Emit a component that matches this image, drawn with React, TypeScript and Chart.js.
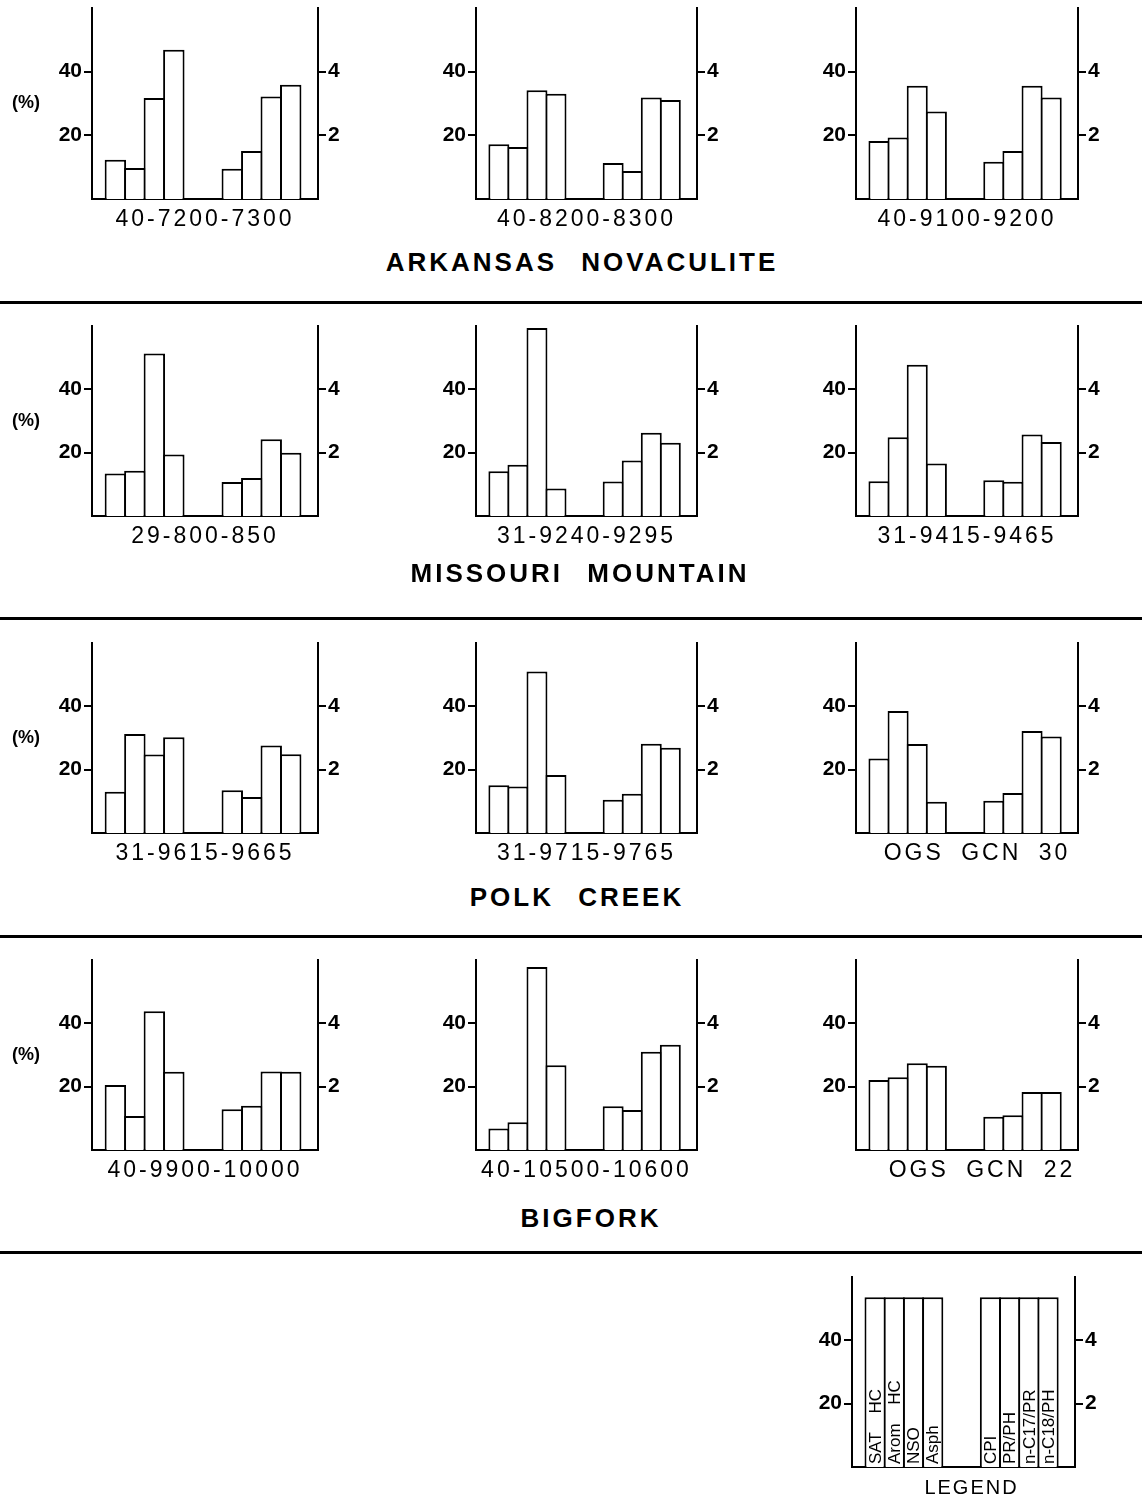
import React, { useEffect, useRef } from 'react';
import { Chart, registerables } from 'chart.js';

Chart.register(...registerables);

// ---------------- data ----------------
const SAMPLES = [
  '40-7200-7300', '40-8200-8300', '40-9100-9200',
  '29-800-850', '31-9240-9295', '31-9415-9465',
  '31-9615-9665', '31-9715-9765', 'OGS GCN 30',
  '40-9900-10000', '40-10500-10600', 'OGS GCN 22',
];
const FORMATIONS = ['ARKANSAS NOVACULITE', 'MISSOURI MOUNTAIN', 'POLK CREEK', 'BIGFORK'];
const LEGEND_TITLE = 'LEGEND';
const PCT_UNIT = '(%)';

const PCT_COMPONENTS = ['SAT HC', 'Arom HC', 'NSO', 'Asph'];
const RATIO_COMPONENTS = ['CPI', 'PR/PH', 'n-C17/PR', 'n-C18/PH'];

// left axis (%) series, one value per sample
const SAT_HC = [12.3, 17.2, 18.2, 13.4, 14.1, 11.0, 13.0, 15.1, 23.5, 20.5, 6.8, 22.1];
const AROM_HC = [9.7, 16.3, 19.3, 14.3, 16.2, 24.9, 31.3, 14.7, 38.5, 10.7, 8.8, 23.0];
const NSO = [31.7, 34.2, 35.6, 51.3, 59.4, 47.8, 24.8, 51.0, 28.1, 43.8, 57.8, 27.4];
const ASPH = [46.9, 33.1, 27.5, 19.4, 8.7, 16.6, 30.2, 18.3, 9.9, 24.7, 26.8, 26.6];
// right axis (ratio) series
const CPI = [0.95, 1.13, 1.17, 1.07, 1.09, 1.13, 1.35, 1.05, 1.02, 1.29, 1.38, 1.05];
const PR_PH = [1.51, 0.88, 1.51, 1.2, 1.75, 1.08, 1.14, 1.24, 1.26, 1.4, 1.26, 1.1];
const NC17_PR = [3.22, 3.19, 3.56, 2.42, 2.63, 2.57, 2.76, 2.82, 3.22, 2.48, 3.1, 1.83];
const NC18_PH = [3.59, 3.11, 3.19, 2.0, 2.31, 2.34, 2.49, 2.69, 3.05, 2.47, 3.32, 1.83];

const LEGEND_PCT = [53.6, 53.6, 53.6, 53.6];
const LEGEND_RATIO = [5.36, 5.36, 5.36, 5.36];

const PCT_TICKS = [20, 40];
const RATIO_TICKS = [2, 4];
const PCT_MAX = 60;
const RATIO_MAX = 6;

// category slots on the x axis (4 % bars, gap, 4 ratio bars)
const PCT_SLOTS = [1, 2, 3, 4];
const RATIO_SLOTS = [7, 8, 9, 10];

// ---------------- layout ----------------
const COL_X = [[92, 318], [476, 697], [856, 1078]];
const ROW_TOP = [8, 326, 643, 960];
const ROW_H = [191, 190, 190, 190];
const LABEL_DX = [0, 0, 0, 0, 0, 0, 0, 0, 10, 0, 0, 15];
const LEGEND_BOX = { left: 852, right: 1075, top: 1277, h: 190 };
const LEFT_W = 90;
const RIGHT_W = 45;
const PAD_T = 18;
const PAD_B = 48;
const X_MIN = -0.2;
const X_MAX = 11.4;
const RULES_Y = [301, 617, 935, 1251];
const TITLES = [
  { cx: 582, cy: 262 },
  { cx: 580, cy: 573 },
  { cx: 577, cy: 897 },
  { cx: 591, cy: 1218 },
];

const FONT = '"Liberation Sans", Arial, sans-serif';

const textPlugin = {
  id: 'panelText',
  afterDatasetsDraw(chart: any, _args: any, opts: any) {
    const { ctx, chartArea } = chart;
    if (opts.barLabels) {
      ctx.save();
      ctx.fillStyle = '#000';
      ctx.font = `17px ${FONT}`;
      opts.barLabels.forEach((lbl: string, i: number) => {
        const meta = chart.getDatasetMeta(i < 4 ? 0 : 1);
        const el = meta.data[i % 4];
        ctx.save();
        ctx.translate(el.x + 1, chartArea.bottom - 3);
        ctx.rotate(-Math.PI / 2);
        ctx.textAlign = 'left';
        ctx.textBaseline = 'middle';
        (ctx as any).wordSpacing = '14px';
        ctx.fillText(lbl, 0, 0);
        ctx.restore();
      });
      ctx.restore();
    }
  },
  afterDraw(chart: any, _args: any, opts: any) {
    const { ctx, chartArea } = chart;
    ctx.save();
    ctx.fillStyle = '#000';
    if (opts.label) {
      ctx.font = opts.labelFont || `23px ${FONT}`;
      (ctx as any).letterSpacing = opts.letterSpacing || '3px';
      (ctx as any).wordSpacing = '8px';
      ctx.textAlign = 'center';
      ctx.textBaseline = 'middle';
      const cx = (chartArea.left + chartArea.right) / 2 + (opts.dx || 0);
      ctx.fillText(opts.label, cx, chartArea.bottom + opts.dy);
    }
    if (opts.unit) {
      (ctx as any).letterSpacing = '0px';
      (ctx as any).wordSpacing = '0px';
      ctx.font = `bold 18px ${FONT}`;
      ctx.textAlign = 'center';
      ctx.textBaseline = 'middle';
      const y = chart.scales.y.getPixelForValue(PCT_MAX / 2);
      ctx.fillText(opts.unit, chartArea.left - 66, y);
    }
    ctx.restore();
  },
};

type PanelProps = {
  left: number;
  right: number;
  top: number;
  h: number;
  pct: number[];
  ratio: number[];
  label: string;
  dx: number;
  dy: number;
  showUnit: boolean;
  barLabels?: string[];
  labelFont?: string;
  letterSpacing?: string;
};

function Panel(p: PanelProps) {
  const ref = useRef<HTMLCanvasElement>(null);
  const W = LEFT_W + (p.right - p.left) + RIGHT_W;
  const H = PAD_T + p.h + PAD_B;
  useEffect(() => {
    const canvas = ref.current!;
    const barStyle = {
      backgroundColor: '#ffffff',
      borderColor: '#000000',
      borderWidth: 2,
      barPercentage: 1.1,
      categoryPercentage: 1,
      grouped: false,
    };
    const tickFont = { family: FONT, size: 21, weight: 'bold' as const };
    const chart = new Chart(canvas, {
      type: 'bar',
      data: {
        datasets: [
          {
            label: '%',
            data: PCT_SLOTS.map((x, k) => ({ x, y: p.pct[k] })),
            yAxisID: 'y',
            ...barStyle,
          } as any,
          {
            label: 'ratio',
            data: RATIO_SLOTS.map((x, k) => ({ x, y: p.ratio[k] })),
            yAxisID: 'y1',
            ...barStyle,
          } as any,
        ],
      },
      options: {
        responsive: false,
        animation: false,
        layout: { padding: { top: PAD_T, bottom: PAD_B, left: 0, right: 0 } },
        plugins: {
          legend: { display: false },
          tooltip: { enabled: false },
          panelText: {
            label: p.label,
            dx: p.dx,
            dy: p.dy,
            unit: p.showUnit ? PCT_UNIT : null,
            barLabels: p.barLabels || null,
            labelFont: p.labelFont || null,
            letterSpacing: p.letterSpacing || null,
          },
        } as any,
        scales: {
          x: {
            type: 'linear',
            min: X_MIN,
            max: X_MAX,
            offset: false,
            afterBuildTicks: (s: any) => {
              s.ticks = [...PCT_SLOTS, ...RATIO_SLOTS].map((v) => ({ value: v }));
            },
            afterFit: (s: any) => {
              s.height = 0;
            },
            ticks: { display: false },
            grid: { display: false, drawTicks: false, offset: false },
            border: { display: true, color: '#000', width: 2 },
          },
          y: {
            position: 'left',
            min: 0,
            max: PCT_MAX,
            afterBuildTicks: (s: any) => {
              s.ticks = PCT_TICKS.map((v) => ({ value: v }));
            },
            afterFit: (s: any) => {
              s.width = LEFT_W;
            },
            ticks: { color: '#000', font: tickFont, padding: 2 },
            grid: { drawOnChartArea: false, drawTicks: true, tickLength: 8, color: '#000', lineWidth: 2 },
            border: { display: true, color: '#000', width: 2 },
          },
          y1: {
            position: 'right',
            min: 0,
            max: RATIO_MAX,
            afterBuildTicks: (s: any) => {
              s.ticks = RATIO_TICKS.map((v) => ({ value: v }));
            },
            afterFit: (s: any) => {
              s.width = RIGHT_W;
            },
            ticks: { color: '#000', font: tickFont, padding: 2 },
            grid: { drawOnChartArea: false, drawTicks: true, tickLength: 8, color: '#000', lineWidth: 2 },
            border: { display: true, color: '#000', width: 2 },
          },
        } as any,
      },
      plugins: [textPlugin as any],
    });
    return () => chart.destroy();
  }, []);
  return (
    <canvas
      ref={ref}
      width={W}
      height={H}
      style={{ position: 'absolute', left: p.left - LEFT_W, top: p.top - PAD_T, width: W, height: H }}
    />
  );
}

export default function App() {
  const panels: PanelProps[] = SAMPLES.map((label, i) => {
    const row = Math.floor(i / 3);
    const col = i % 3;
    return {
      left: COL_X[col][0],
      right: COL_X[col][1],
      top: ROW_TOP[row],
      h: ROW_H[row],
      pct: [SAT_HC[i], AROM_HC[i], NSO[i], ASPH[i]],
      ratio: [CPI[i], PR_PH[i], NC17_PR[i], NC18_PH[i]],
      label,
      dx: LABEL_DX[i],
      dy: 21,
      showUnit: col === 0,
    };
  });
  return (
    <div
      style={{
        position: 'absolute',
        left: 0,
        top: 0,
        width: 1142,
        height: 1500,
        background: '#fff',
        overflow: 'hidden',
        fontFamily: FONT,
      }}
    >
      {panels.map((p, i) => (
        <Panel key={i} {...p} />
      ))}
      <Panel
        left={LEGEND_BOX.left}
        right={LEGEND_BOX.right}
        top={LEGEND_BOX.top}
        h={LEGEND_BOX.h}
        pct={LEGEND_PCT}
        ratio={LEGEND_RATIO}
        label={LEGEND_TITLE}
        dx={8}
        dy={21}
        showUnit={false}
        barLabels={[...PCT_COMPONENTS, ...RATIO_COMPONENTS]}
        labelFont={`20px ${FONT}`}
        letterSpacing="2px"
      />
      {RULES_Y.map((y, i) => (
        <div
          key={'r' + i}
          style={{ position: 'absolute', left: 0, top: y, width: 1142, height: 3, background: '#000' }}
        />
      ))}
      {FORMATIONS.map((t, i) => (
        <div
          key={'t' + i}
          style={{
            position: 'absolute',
            left: TITLES[i].cx - 300,
            width: 600,
            top: TITLES[i].cy - 13,
            height: 26,
            lineHeight: '26px',
            fontSize: 26,
            fontWeight: 'bold',
            letterSpacing: 3,
            wordSpacing: 14,
            textAlign: 'center',
            whiteSpace: 'nowrap',
            color: '#000',
          }}
        >
          {t}
        </div>
      ))}
    </div>
  );
}
